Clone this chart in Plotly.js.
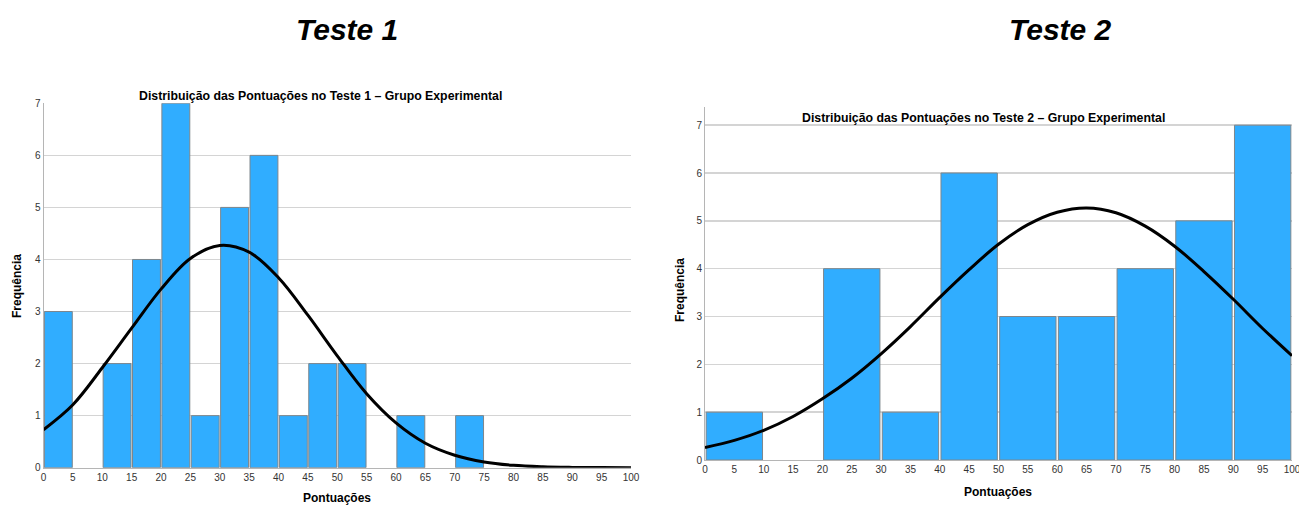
<!DOCTYPE html>
<html>
<head>
<meta charset="utf-8">
<script src="https://cdn.plot.ly/plotly-3.0.1.min.js"></script>
<style>html,body{margin:0;padding:0;background:#fff;}#chart{width:1299px;height:505px;}</style>
</head>
<body>
<div id="chart"></div>
<script>
// ---- Data ----
const mainTitles = ["Teste 1", "Teste 2"];
const chartTitles = ["Distribuição das Pontuações no Teste 1 – Grupo Experimental",
                     "Distribuição das Pontuações no Teste 2 – Grupo Experimental"];
const xAxisLabel = "Pontuações";
const yAxisLabel = "Frequência";

// Teste 1: bins of width 5 (start of each bin)
const binStarts1 = [0,5,10,15,20,25,30,35,40,45,50,55,60,65,70,75,80,85,90,95];
const counts1    = [3,0,2,4,7,1,5,6,1,2,2,0,1,0,1,0,0,0,0,0];
// Teste 1 normal curve, read at every 5 points
const curveX1 = [0,5,10,15,20,25,30,35,40,45,50,55,60,65,70,75,80,85,90,95,100];
const curveY1 = [0.73,1.21,1.92,2.68,3.43,4.02,4.27,4.14,3.65,2.93,2.15,1.42,0.86,0.47,0.24,0.11,0.045,0.017,0.006,0.002,0.001];

// Teste 2: bins of width 10
const binStarts2 = [0,10,20,30,40,50,60,70,80,90];
const counts2    = [1,0,4,1,6,3,3,4,5,7];
const curveX2 = [0,5,10,15,20,25,30,35,40,45,50,55,60,65,70,75,80,85,90,95,100];
const curveY2 = [0.26,0.41,0.62,0.91,1.28,1.71,2.22,2.79,3.40,3.98,4.51,4.92,5.18,5.27,5.17,4.89,4.47,3.94,3.36,2.75,2.18];

const xTicks = [0,5,10,15,20,25,30,35,40,45,50,55,60,65,70,75,80,85,90,95,100];
const yTicks = [0,1,2,3,4,5,6,7];

// ---- Styling ----
const barFill = "#30adff";
const barLine = "#7d868c";
const font = "Liberation Sans, Arial, sans-serif";

function nz(arr){ return arr.map(v => v === 0 ? null : v); }

const traces = [
  {type:"bar", x:binStarts1, y:nz(counts1), width:4.75, offset:0.15,
   marker:{color:barFill, line:{color:barLine, width:1}}, xaxis:"x", yaxis:"y", hoverinfo:"skip"},
  {type:"scatter", mode:"lines", x:curveX1, y:curveY1, line:{color:"#000", width:3, shape:"spline"},
   xaxis:"x", yaxis:"y", hoverinfo:"skip"},
  {type:"bar", x:binStarts2, y:nz(counts2), width:9.6, offset:0.2,
   marker:{color:barFill, line:{color:barLine, width:1}}, xaxis:"x2", yaxis:"y2", hoverinfo:"skip"},
  {type:"scatter", mode:"lines", x:curveX2, y:curveY2, line:{color:"#000", width:3, shape:"spline"},
   xaxis:"x2", yaxis:"y2", hoverinfo:"skip"}
];

const W = 1299, H = 505;
const px = v => v / W;
const py = v => (H - v) / H;

const xBase = {
  range:[0,100], tickvals:xTicks, ticks:"", showgrid:false, zeroline:false,
  showline:true, linecolor:"#b5b5b5", linewidth:1, ticklabeloverflow:"allow",
  tickfont:{family:font, size:10, color:"#333"}, fixedrange:true
};
const yBase = {
  tickvals:yTicks, ticks:"", showgrid:true, gridcolor:"#d4d4d4", gridwidth:1.5,
  zeroline:false, showline:true, linecolor:"#b5b5b5", linewidth:1,
  tickfont:{family:font, size:10, color:"#333"}, fixedrange:true
};

const layout = {
  width:W, height:H, margin:{l:0,r:0,t:0,b:0},
  paper_bgcolor:"#fff", plot_bgcolor:"#fff", showlegend:false,
  barmode:"overlay",
  xaxis: Object.assign({}, xBase, {domain:[px(43.5), px(631)], anchor:"y"}),
  yaxis: Object.assign({}, yBase, {domain:[py(467.7), py(103.3)], range:[0,7], anchor:"x"}),
  xaxis2: Object.assign({}, xBase, {domain:[px(705), px(1292)], anchor:"y2"}),
  yaxis2: Object.assign({}, yBase, {domain:[py(460), py(107)], range:[0,7.38], anchor:"x2"}),
  annotations: [
    {text:"<b><i>"+mainTitles[0]+"</i></b>", x:px(347), y:py(29), xref:"paper", yref:"paper",
     showarrow:false, font:{family:font, size:30, color:"#000"}, xanchor:"center", yanchor:"middle"},
    {text:"<b><i>"+mainTitles[1]+"</i></b>", x:px(1060), y:py(29), xref:"paper", yref:"paper",
     showarrow:false, font:{family:font, size:30, color:"#000"}, xanchor:"center", yanchor:"middle"},
    {text:"<b>"+chartTitles[0]+"</b>", x:px(320), y:py(96), xref:"paper", yref:"paper",
     showarrow:false, font:{family:font, size:12.3, color:"#000"}, xanchor:"center", yanchor:"middle"},
    {text:"<b>"+chartTitles[1]+"</b>", x:px(983), y:py(118), xref:"paper", yref:"paper",
     showarrow:false, font:{family:font, size:12.3, color:"#000"}, xanchor:"center", yanchor:"middle"},
    {text:"<b>"+yAxisLabel+"</b>", x:px(17), y:py(286), xref:"paper", yref:"paper", textangle:-90,
     showarrow:false, font:{family:font, size:12, color:"#000"}, xanchor:"center", yanchor:"middle"},
    {text:"<b>"+yAxisLabel+"</b>", x:px(680), y:py(290), xref:"paper", yref:"paper", textangle:-90,
     showarrow:false, font:{family:font, size:12, color:"#000"}, xanchor:"center", yanchor:"middle"},
    {text:"<b>"+xAxisLabel+"</b>", x:px(337), y:py(498), xref:"paper", yref:"paper",
     showarrow:false, font:{family:font, size:12, color:"#000"}, xanchor:"center", yanchor:"middle"},
    {text:"<b>"+xAxisLabel+"</b>", x:px(998), y:py(492), xref:"paper", yref:"paper",
     showarrow:false, font:{family:font, size:12, color:"#000"}, xanchor:"center", yanchor:"middle"}
  ]
};

Plotly.newPlot("chart", traces, layout, {displayModeBar:false, staticPlot:true});
</script>
</body>
</html>
